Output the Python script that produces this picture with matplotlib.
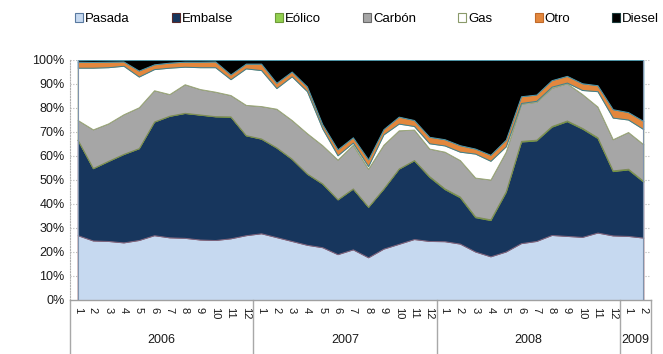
import numpy as np
import matplotlib
matplotlib.use("Agg")
import matplotlib.pyplot as plt
from matplotlib.patches import Patch
from matplotlib.transforms import blended_transform_factory

plt.rcParams["font.family"] = ["Liberation Sans", "DejaVu Sans"]

# Monthly generation mix (% of total), Jan 2006 - Feb 2009
years = ["2006", "2007", "2008", "2009"]
months_per_year = [12, 12, 12, 2]
month_labels = [str(m) for n in months_per_year for m in range(1, n + 1)]

pasada = [27.0, 24.8, 24.6, 24.0, 25.0, 27.0, 26.1, 25.9, 25.2, 25.0, 25.7, 27.0,
          27.8, 26.2, 24.6, 23.0, 22.0, 19.1, 21.1, 17.8, 21.4, 23.4, 25.4, 24.6,
          24.5, 23.5, 20.2, 18.2, 20.2, 23.7, 24.6, 27.1, 26.7, 26.3, 28.1, 26.9,
          26.7, 26.0]
embalse = [39.7, 30.1, 33.3, 36.8, 38.2, 47.3, 50.6, 52.0, 52.0, 51.5, 50.7, 41.6,
           39.4, 37.3, 34.2, 29.6, 26.5, 22.8, 25.3, 21.0, 25.0, 31.3, 32.8, 26.7,
           21.7, 19.3, 14.3, 15.1, 24.8, 42.3, 41.9, 45.1, 47.8, 45.1, 39.4, 26.8,
           27.7, 23.3]
eolico = [0.1] * 23 + [0.3] * 15
carbon = [8.2, 16.1, 15.6, 16.5, 17.0, 13.0, 9.0, 11.9, 10.6, 10.2, 8.9, 12.6,
          13.5, 16.1, 16.1, 16.8, 15.9, 16.5, 18.2, 15.8, 18.2, 15.9, 12.7, 11.5,
          15.3, 15.2, 16.2, 16.6, 16.5, 15.5, 15.8, 15.9, 15.5, 14.1, 12.8, 13.0,
          15.3, 15.3]
gas = [21.8, 25.7, 23.4, 20.2, 12.8, 8.8, 11.0, 7.3, 9.1, 10.2, 6.6, 15.2,
       15.0, 8.6, 18.2, 17.5, 7.0, 1.8, 0.9, 1.1, 4.3, 2.8, 1.5, 2.2,
       2.6, 3.5, 10.0, 7.8, 2.2, 0.3, 0.4, 0.5, 0.3, 1.7, 6.4, 9.0,
       5.2, 6.3]
otro = [2.5, 2.4, 2.3, 1.8, 2.5, 2.0, 2.1, 2.1, 2.3, 2.4, 2.0, 2.0,
        2.7, 2.2, 2.0, 2.0, 1.8, 2.5, 2.2, 2.8, 2.2, 2.9, 2.5, 2.7,
        2.6, 2.7, 2.1, 2.5, 2.8, 2.8, 2.6, 2.7, 2.8, 2.8, 2.5, 3.5,
        3.1, 3.4]
diesel = [0.7, 0.8, 0.7, 0.6, 4.4, 1.8, 1.1, 0.7, 0.7, 0.6, 6.0, 1.5,
          1.5, 9.5, 4.8, 11.0, 26.7, 37.2, 32.2, 41.4, 28.8, 23.6, 25.0, 32.0,
          33.0, 35.5, 36.9, 39.5, 33.2, 15.1, 14.4, 8.4, 6.6, 9.7, 10.5, 20.5,
          21.7, 25.4]

names = ["Pasada", "Embalse", "Eólico", "Carbón", "Gas", "Otro", "Diesel"]
series = [pasada, embalse, eolico, carbon, gas, otro, diesel]
fills = ["#c6d9f0", "#17365d", "#92d050", "#a6a6a6", "#ffffff", "#e3873d", "#000000"]
edges = ["#8a5560", "#7d6680", "#6f9a3a", "#7f8a5a", "#9aa67a", "#3f7f8f", "#4f96a8"]
legend_edges = ["#5a7aa0", "#5a2a2a", "#6f9a3a", "#6a6a6a", "#8a9a6a", "#c06a2a", "#1a3a3a"]

data = np.array(series, dtype=float)
data = data / data.sum(axis=0) * 100.0
tops = np.cumsum(data, axis=0)
bottoms = np.vstack([np.zeros(data.shape[1]), tops[:-1]])
x = np.arange(data.shape[1])

fig = plt.figure(figsize=(6.63, 3.54), dpi=100)
ax = fig.add_axes([70 / 663, 1 - 300 / 354, 581 / 663, 240 / 354])

for yv in range(10, 101, 10):
    ax.axhline(yv, color="#b8b8b8", lw=0.8, ls=(0, (1, 1.5)), zorder=0)

for b, t, fc, ec in zip(bottoms, tops, fills, edges):
    ax.fill_between(x, b, t, facecolor=fc, edgecolor=ec, linewidth=0.7, zorder=2)
# outer vertical edges of the stacked block
for xe in (x[0], x[-1]):
    ax.plot([xe, xe], [0, 100], color="#7f93ad", lw=0.8, zorder=3)

ax.set_xlim(-0.5, len(x) - 0.5)
ax.set_ylim(0, 100)
ax.set_yticks(range(0, 101, 10))
ax.set_yticklabels([f"{v}%" for v in range(0, 101, 10)], fontsize=9, color="#1a1a1a")
ax.set_xticks(x)
ax.set_xticklabels(month_labels, rotation=-90, fontsize=8, color="#1a1a1a")
ax.tick_params(axis="both", length=0, pad=4)
ax.tick_params(axis="x", pad=5)

for side in ["top", "right"]:
    ax.spines[side].set_visible(False)
ax.spines["left"].set_color("#b0b0b0")
ax.spines["left"].set_linestyle((0, (1, 1.5)))
ax.spines["left"].set_linewidth(0.8)
ax.spines["bottom"].set_color("#a0a0a0")
ax.spines["bottom"].set_linewidth(1.0)

# year group separators and labels below the month ticks
trans = blended_transform_factory(ax.transData, ax.transAxes)
bounds = np.concatenate([[0], np.cumsum(months_per_year)]) - 0.5
for bx in bounds:
    ax.plot([bx, bx], [0, -54 / 240], transform=trans, color="#a8a8a8",
            lw=1.0, clip_on=False)
for yr, lo, hi in zip(years, bounds[:-1], bounds[1:]):
    ax.text((lo + hi) / 2, -40 / 240, yr, transform=trans, ha="center",
            va="center", fontsize=9, color="#1a1a1a")

handles = [Patch(facecolor=fc, edgecolor=le, linewidth=0.8)
           for fc, le in zip(fills, legend_edges)]
fig.legend(handles, names, loc="center left", bbox_to_anchor=(75 / 663, 1 - 19 / 354),
           ncol=7, frameon=False, fontsize=9.5, handlelength=0.6, handleheight=0.6,
           handletextpad=0.15, columnspacing=3.2, borderpad=0, borderaxespad=0)

fig.savefig("out.png", dpi=100)
